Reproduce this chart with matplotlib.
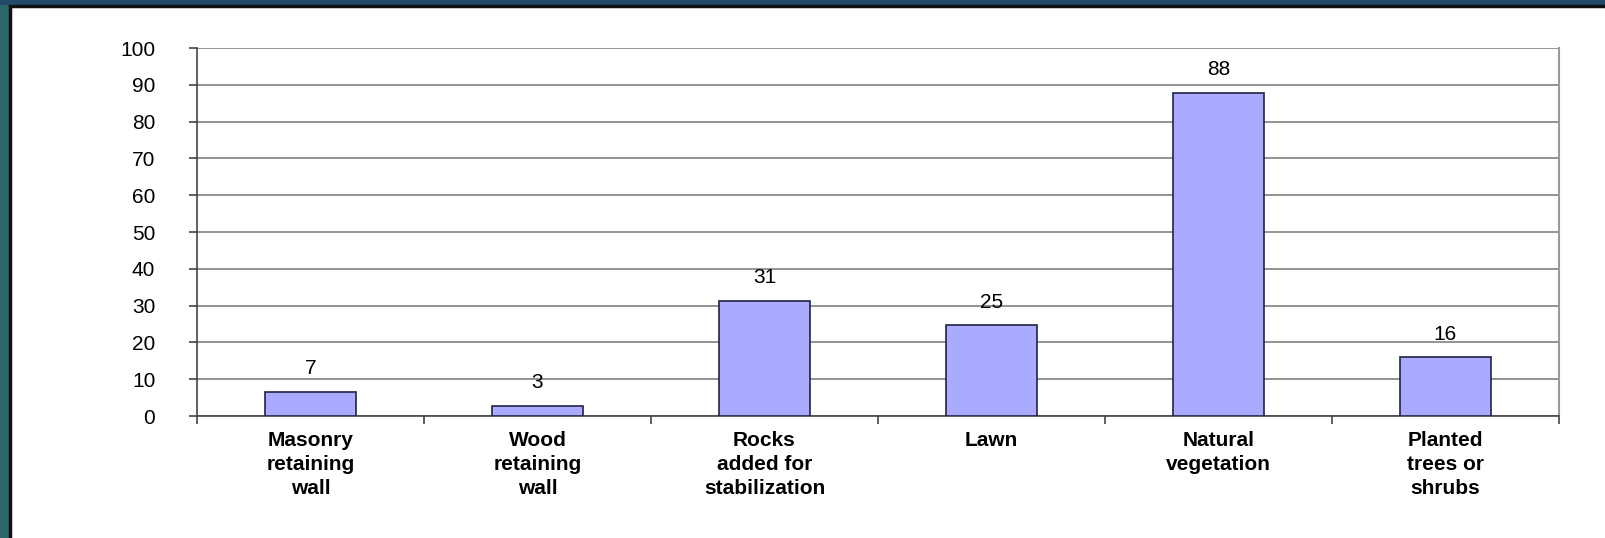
import matplotlib.pyplot as plt
import matplotlib.patches as patches
import numpy as np

categories = ['Masonry\nretaining\nwall', 'Wood\nretaining\nwall', 'Rocks\nadded for\nstabilization',
              'Lawn', 'Natural\nvegetation', 'Planted\ntrees or\nshrubs']
values = [6.5, 2.8, 31.2, 24.6, 87.7, 15.9]
labels = ['7', '3', '31', '25', '88', '16']
yticks = list(range(0, 101, 10))

plt.rcParams['font.family'] = ['Liberation Sans', 'DejaVu Sans']

W, H = 1606, 538
fig = plt.figure(figsize=(W / 100, H / 100), dpi=100)
fig.patch.set_facecolor('#2b676b')

# darker top band and white slide panel with a black frame
fig.patches.append(patches.Rectangle((0, 1 - 5 / H), 1, 5 / H, transform=fig.transFigure,
                                     facecolor='#234a66', edgecolor='none', zorder=-2))
fig.patches.append(patches.Rectangle((10 / W, -0.01), 1, 1 - 6 / H + 0.01, transform=fig.transFigure,
                                     facecolor='white', edgecolor='#111111', linewidth=2.5, zorder=-1))

ax = fig.add_axes([197 / W, 1 - 416 / H, (1559 - 197) / W, (416 - 48) / H])
ax.set_zorder(2)
ax.patch.set_alpha(0)

x = np.arange(len(categories))
bars = ax.bar(x, values, width=0.4, color='#aaaaff', edgecolor='#222244', linewidth=1.2, zorder=3)

for rect, lab in zip(bars, labels):
    ax.annotate(lab, xy=(rect.get_x() + rect.get_width() / 2, rect.get_height()),
                xytext=(0, 10), textcoords='offset points', ha='center', va='bottom',
                fontsize=15, color='black')

ax.set_xlim(-0.5, len(categories) - 0.5)
ax.set_ylim(0, 100)
ax.set_yticks(yticks)
ax.set_yticklabels([str(v) for v in yticks], fontsize=15)
ax.yaxis.grid(True, color='#808080', linewidth=1.2, zorder=0)
ax.set_axisbelow(True)

ax.set_xticks(x)
ax.set_xticklabels(categories, fontsize=15, fontweight='bold', linespacing=1.32)
ax.tick_params(axis='x', length=0, pad=11)
ax.set_xticks(np.arange(len(categories) + 1) - 0.5, minor=True)
ax.tick_params(axis='x', which='minor', length=6, color='#444444', width=1.2)
ax.tick_params(axis='y', length=6, color='#444444', width=1.2, pad=24)

ax.spines['top'].set_visible(False)
ax.spines['right'].set_color('#999999')
ax.spines['right'].set_linewidth(1.5)
ax.spines['left'].set_color('#444444')
ax.spines['left'].set_linewidth(1.2)
ax.spines['bottom'].set_color('#444444')
ax.spines['bottom'].set_linewidth(1.2)

fig.savefig('out.png', dpi=100, facecolor=fig.get_facecolor())
